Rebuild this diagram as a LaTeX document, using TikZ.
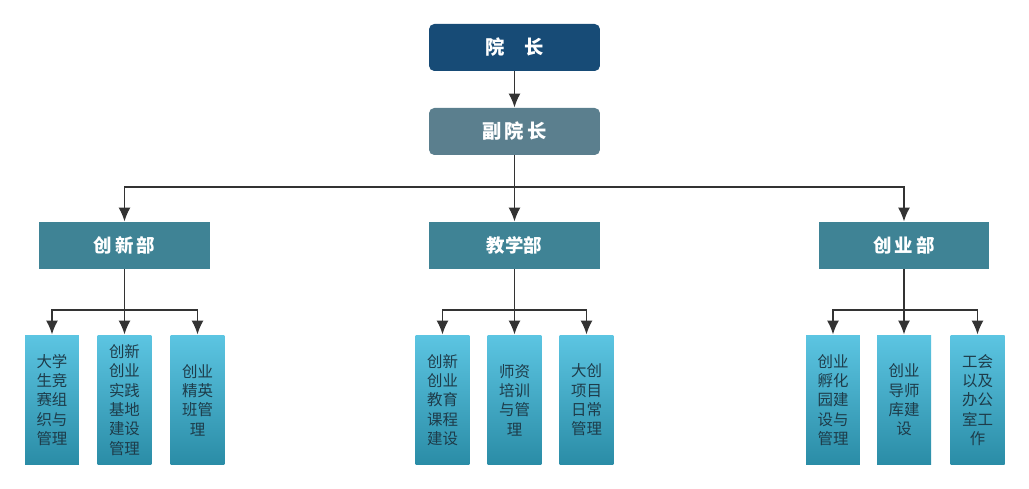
\documentclass[tikz,border=0pt]{standalone}
\usepackage{fontspec}
\setmainfont{Noto Sans CJK SC}
\usetikzlibrary{arrows.meta}
\definecolor{deanblue}{HTML}{174B76}
\definecolor{vicegray}{HTML}{5B7F8E}
\definecolor{deptteal}{HTML}{3F8395}
\definecolor{leaftop}{HTML}{5CC5E2}
\definecolor{leafbot}{HTML}{2A8CA6}
\definecolor{leaftext}{HTML}{1E3C4A}
\definecolor{arrgray}{HTML}{333333}
\tikzset{
  headbox/.style={rectangle,rounded corners=3pt,minimum width=3.42cm,minimum height=0.94cm,
    text=white,font=\bfseries\fontsize{11}{13}\selectfont},
  deptbox/.style={rectangle,fill=deptteal,minimum width=3.42cm,minimum height=0.94cm,
    text=white,font=\bfseries\fontsize{10.5}{12}\selectfont},
  leafbox/.style={rectangle,top color=leaftop,bottom color=leafbot,minimum width=1.08cm,
    minimum height=2.6cm,inner sep=0pt,text=leaftext,align=center,
    font=\fontsize{8.8}{11}\selectfont},
  arr/.style={draw=arrgray,line width=1.1pt,-{Latex[length=2.8mm,width=2.4mm]}}
}
\begin{document}
\begin{tikzpicture}[x=0.02cm,y=-0.02cm]
%  \draw[help lines] (0,0) grid (1029,489);
    \useasboundingbox (0,0) rectangle (1029,489);
    \path (514.5,47.5) node(dean) [headbox,fill=deanblue] {院\quad 长}
    (514.5,131.5) node(vice) [headbox,fill=vicegray] {副\,院\,长}
    (124.5,245.5) node(inno) [deptbox] {创\,新\,部}
    (514.5,245.5) node(teach) [deptbox] {教学部}
    (904,245.5) node(entr) [deptbox] {创\,业\,部};
    \path (52,400) node(a1) [leafbox] {大学\\生竞\\赛组\\织与\\管理}
    (124.5,400) node(a2) [leafbox] {创新\\创业\\实践\\基地\\建设\\管理}
    (197.5,400) node(a3) [leafbox] {创业\\精英\\班管\\理}
    (442.5,400) node(b1) [leafbox] {创新\\创业\\教育\\课程\\建设}
    (514.5,400) node(b2) [leafbox] {师资\\培训\\与管\\理}
    (586.5,400) node(b3) [leafbox] {大创\\项目\\日常\\管理}
    (833,400) node(c1) [leafbox] {创业\\孵化\\园建\\设与\\管理}
    (904,400) node(c2) [leafbox] {创业\\导师\\库建\\设}
    (977.5,400) node(c3) [leafbox] {工会\\以及\\办公\\室工\\作};
    \draw[arr] (dean) -- (vice);
    \draw[arr] (vice.south) -- ++(0,31.5) -| (inno.north);
    \draw[arr] (vice.south) -- ++(0,31.5) -| (entr.north);
    \draw[arr] (vice) -- (teach);
    \draw[arr] (inno.south) -- ++(0,41) -| (a1.north);
    \draw[arr] (inno.south) -- ++(0,41) -| (a3.north);
    \draw[arr] (inno) -- (a2);
    \draw[arr] (teach.south) -- ++(0,41) -| (b1.north);
    \draw[arr] (teach.south) -- ++(0,41) -| (b3.north);
    \draw[arr] (teach) -- (b2);
    \draw[arr] (entr.south) -- ++(0,41) -| (c1.north);
    \draw[arr] (entr.south) -- ++(0,41) -| (c3.north);
    \draw[arr] (entr) -- (c2);
  \end{tikzpicture}
\end{document}
